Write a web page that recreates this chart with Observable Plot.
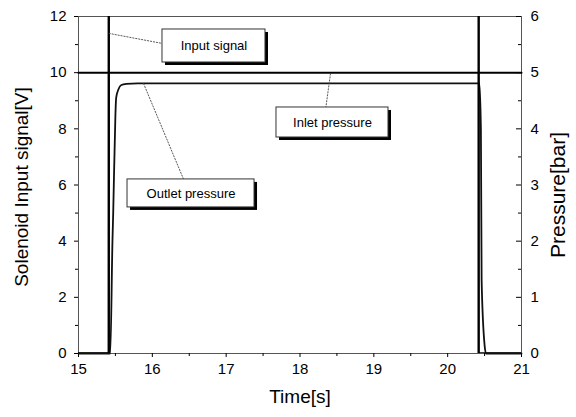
<!DOCTYPE html>
<html><head><meta charset="utf-8">
<script src="https://cdn.jsdelivr.net/npm/d3@7"></script>
<script src="https://cdn.jsdelivr.net/npm/@observablehq/plot@0.6"></script>
<style>body{margin:0;background:#fff}</style>
</head><body><div id="chart"></div>
<script>
// ---- data ----
const inputTime = [15, 15.41, 15.41, 20.42, 20.42, 21];
const inputVolt = [0, 0, 24, 24, 0, 0];           // signal runs off the top of the axis
const inletTime = [15, 21];
const inletBar  = [5.0, 5.0];
const outletTime = [15, 15.43, 15.46, 15.47, 15.50, 15.51, 15.54, 15.58, 15.65, 15.8, 20.43, 20.45, 20.46, 20.50, 20.52, 21];
const outletBar  = [0, 0, 2.0, 2.5, 4.25, 4.55, 4.7, 4.78, 4.8, 4.81, 4.81, 4.0, 1.3, 0.15, 0, 0];
const xTicks = [15, 16, 17, 18, 19, 20, 21];
const leftTicks = [0, 2, 4, 6, 8, 10, 12];
const rightTicks = [0, 1, 2, 3, 4, 5, 6];
const annoLabels = ["Input signal", "Outlet pressure", "Inlet pressure"];
const annoX = [16.835, 16.524, 18.44];
const annoY = [10.95, 5.70, 8.226];
const annoPointX = [15.41, 15.88, 18.413];
const annoPointY = [11.4, 9.62, 9.97];

const barToVolt = 2; // right axis 0–6 bar ↔ left axis 0–12 V

const input = inputTime.map((t, i) => ({t, v: inputVolt[i]}));
const inlet = inletTime.map((t, i) => ({t, p: inletBar[i]}));
const outlet = outletTime.map((t, i) => ({t, p: outletBar[i]}));

const xPx = 73.83, yPx = 28.08; // px per unit, for box sizes around labels
const boxW = [103, 127, 112], boxH = [33, 28, 30];
const annos = annoLabels.map((s, i) => ({
  s, x: annoX[i], y: annoY[i], px: annoPointX[i], py: annoPointY[i],
  x1: annoX[i] - boxW[i] / 2 / xPx, x2: annoX[i] + boxW[i] / 2 / xPx,
  y1: annoY[i] - boxH[i] / 2 / yPx, y2: annoY[i] + boxH[i] / 2 / yPx,
  lx: i === 0 ? annoX[i] - boxW[i] / 2 / xPx : annoX[i] + (i === 1 ? -0.1 : -0.09),
  ly: i === 0 ? annoY[i] + 0.09 : annoY[i] + boxH[i] / 2 / yPx
}));

const font = "'Liberation Sans', Arial, Helvetica, sans-serif";

const chart = Plot.plot({
  width: 576, height: 417,
  marginLeft: 78, marginRight: 55, marginTop: 16, marginBottom: 64,
  style: {fontFamily: font, fontSize: "15px", color: "#000", background: "#fff"},
  x: {domain: [15, 21]},
  y: {domain: [0, 12]},
  marks: [
    Plot.frame({stroke: "#555", strokeWidth: 1}),
    Plot.axisX({ticks: xTicks, tickSize: 4, tickPadding: 6, tickFormat: d => d, label: null, fontSize: 15}),
    Plot.axisX({ticks: d3.range(15.5, 21, 1), tickSize: 3, tickFormat: () => "", label: null}),
    Plot.axisY({ticks: leftTicks, tickSize: 4, tickPadding: 8, label: null, fontSize: 15}),
    Plot.axisY({ticks: d3.range(1, 12, 2), tickSize: 3, tickFormat: () => "", label: null}),
    Plot.axisY({anchor: "right", ticks: rightTicks.map(b => b * barToVolt), tickFormat: d => d / barToVolt,
                tickSize: 0, tickPadding: 9, label: null, fontSize: 15}),
    Plot.ruleY(rightTicks, {y: b => b * barToVolt, x1: 21 - 5 / xPx, x2: 21, stroke: "#000"}),
    Plot.ruleY(d3.range(0.5, 6, 1), {y: b => b * barToVolt, x1: 21 - 3 / xPx, x2: 21, stroke: "#000"}),
    Plot.line(inlet, {x: "t", y: d => d.p * barToVolt, stroke: "#000", strokeWidth: 2}),
    Plot.line(outlet, {x: "t", y: d => d.p * barToVolt, stroke: "#111", strokeWidth: 1.8, curve: "monotone-x"}),
    Plot.line(input, {x: "t", y: "v", stroke: "#000", strokeWidth: 2.4, clip: true}),
    Plot.link(annos, {x1: "px", y1: "py", x2: "lx", y2: "ly", stroke: "#444", strokeWidth: 0.9, strokeDasharray: "2,1"}),
    Plot.rect(annos, {x1: "x1", x2: "x2", y1: "y1", y2: "y2", fill: "#000", dx: 3, dy: 3}),
    Plot.rect(annos, {x1: "x1", x2: "x2", y1: "y1", y2: "y2", fill: "#fff", stroke: "#333", strokeWidth: 1}),
    Plot.text(annos, {x: "x", y: "y", text: "s", fontSize: 13, fill: "#000"}),
    Plot.text(["Time[s]"], {text: d => d, frameAnchor: "bottom", dy: 49, fontSize: 19}),
    Plot.text(["Solenoid Input signal[V]"], {text: d => d, frameAnchor: "left", textAnchor: "middle", dx: -57, dy: 2, rotate: -90, fontSize: 19}),
    Plot.text(["Pressure[bar]"], {text: d => d, frameAnchor: "right", textAnchor: "middle", dx: 37, dy: 10, rotate: -90, fontSize: 21})
  ]
});
document.getElementById("chart").appendChild(chart);
</script>
</body></html>
